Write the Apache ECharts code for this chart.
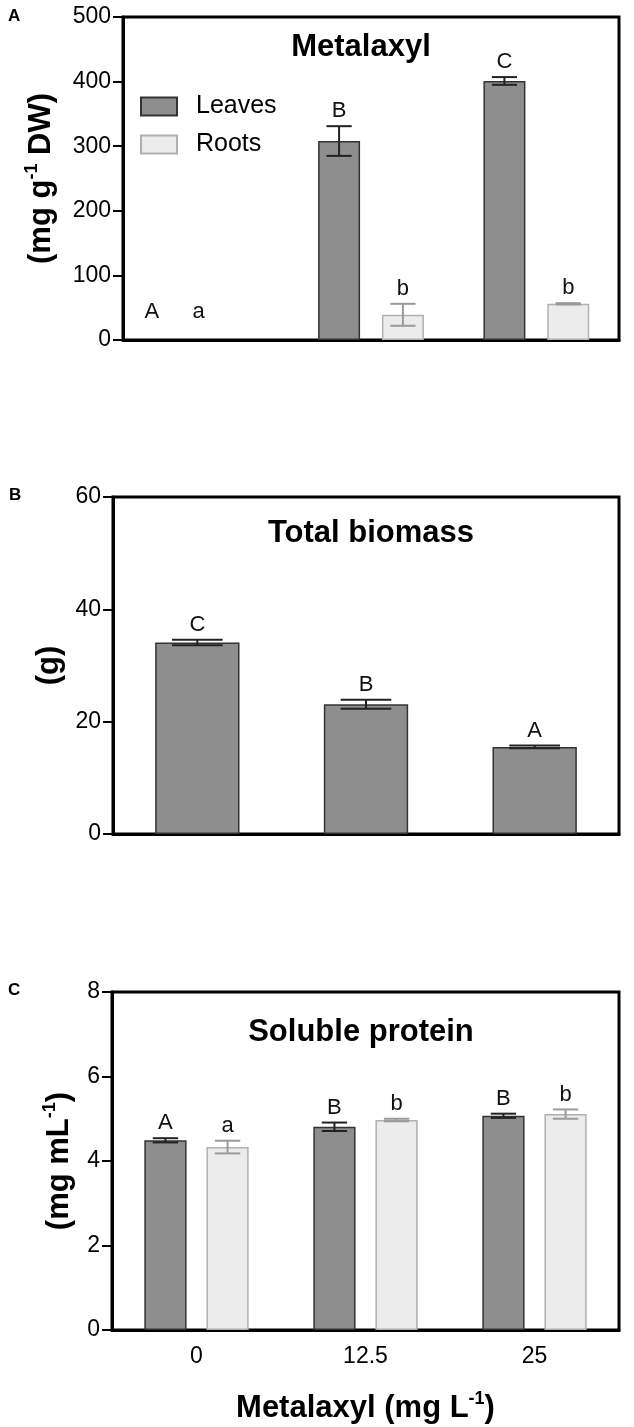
<!DOCTYPE html>
<html>
<head>
<meta charset="utf-8">
<script src="https://cdn.jsdelivr.net/npm/echarts@6/dist/echarts.min.js"></script>
<style>
html,body{margin:0;padding:0;background:#fff;}
#chart{width:634px;height:1427px;}
</style>
</head>
<body>
<div id="chart"></div>
<script>
// ---------- data ----------
const categories = ['0', '12.5', '25'];

// Panel A: Metalaxyl content (mg g-1 DW)
const metalaxylLeaves = [0, 308, 401];
const metalaxylLeavesErr = [0, 23, 6];
const metalaxylLeavesLetters = ['A', 'B', 'C'];
const metalaxylRoots = [0, 39, 56];
const metalaxylRootsErr = [0, 17, 1];
const metalaxylRootsLetters = ['a', 'b', 'b'];

// Panel B: Total biomass (g)
const biomass = [34.1, 23.1, 15.5];
const biomassErr = [0.5, 0.8, 0.25];
const biomassLetters = ['C', 'B', 'A'];

// Panel C: Soluble protein (mg mL-1)
const proteinLeaves = [4.49, 4.81, 5.07];
const proteinLeavesErr = [0.05, 0.10, 0.05];
const proteinLeavesLetters = ['A', 'B', 'B'];
const proteinRoots = [4.33, 4.97, 5.11];
const proteinRootsErr = [0.15, 0.03, 0.11];
const proteinRootsLetters = ['a', 'b', 'b'];

const yTicksA = [0, 500, 100];
const yTicksB = [0, 60, 20];
const yTicksC = [0, 8, 2];

// ---------- styling ----------
const FONT = 'Liberation Sans, Arial, Helvetica, sans-serif';
const LEAF_FILL = '#8e8e8e', LEAF_BORDER = '#333333', LEAF_ERR = '#222222';
const ROOT_FILL = '#ececec', ROOT_BORDER = '#b0b0b0', ROOT_ERR = '#9a9a9a';

const grids = [
  {left: 123, top: 17, width: 496, height: 323},
  {left: 113, top: 497, width: 506, height: 337},
  {left: 112, top: 992, width: 507, height: 338}
];

const richName = {
  b: {fontSize: 31, fontWeight: 'bold', fontFamily: FONT, color: '#000', lineHeight: 36},
  s: {fontSize: 18, fontWeight: 'bold', fontFamily: FONT, color: '#000', lineHeight: 18, verticalAlign: 'top'}
};

function yAxis(gi, ticks, name, gap) {
  return {
    type: 'value', gridIndex: gi, min: ticks[0], max: ticks[1], interval: ticks[2],
    splitLine: {show: false},
    axisLine: {show: true, lineStyle: {color: '#000', width: 3}},
    axisTick: {show: true, length: 10, lineStyle: {color: '#000', width: 2}},
    axisLabel: {color: '#000', fontSize: 23, fontFamily: FONT, margin: 12},
    name: name, nameLocation: 'middle', nameRotate: 90, nameGap: gap,
    nameTextStyle: {rich: richName}
  };
}

function xAxis(gi, showLabels) {
  const ax = {
    type: 'category', gridIndex: gi, data: categories,
    axisLine: {show: true, onZero: false, lineStyle: {color: '#000', width: 3}},
    axisTick: {show: false},
    axisLabel: {show: showLabels, color: '#000', fontSize: 23, fontFamily: FONT, margin: 15}
  };
  if (showLabels) {
    ax.name = '{b|Metalaxyl (mg L}{s|-1}{b|)}';
    ax.nameLocation = 'middle';
    ax.nameGap = 60;
    ax.nameTextStyle = {rich: richName};
  }
  return ax;
}

function barSeries(name, gi, data, fill, border, bw, gap) {
  return {
    type: 'bar', name: name, xAxisIndex: gi, yAxisIndex: gi,
    data: data.map(v => v === 0 ? {value: v, itemStyle: {borderWidth: 0, opacity: 0}} : v),
    barWidth: bw, barGap: gap,
    itemStyle: {color: fill, borderColor: border, borderWidth: 1.5},
    emphasis: {disabled: true}, animation: false, z: 2
  };
}

function errSeries(gi, means, errs, letters, color, bwFrac, gapFrac, n, i, zeroShift) {
  return {
    type: 'custom', xAxisIndex: gi, yAxisIndex: gi, animation: false, z: 5, silent: true,
    data: means.map((m, k) => [k, m, errs[k]]),
    encode: {x: 0, y: 1},
    renderItem: function (params, api) {
      const cat = api.value(0), mean = api.value(1), err = api.value(2);
      const catW = api.size([1, 0])[0];
      const bw = catW * bwFrac;
      const g = bw * gapFrac;
      const offset = -(n * bw + (n - 1) * g) / 2 + i * (bw + g) + bw / 2;
      const base = api.coord([cat, mean]);
      const x = base[0] + offset;
      const yTop = api.coord([cat, mean + err])[1];
      const yBot = api.coord([cat, mean - err])[1];
      const yZero = api.coord([cat, 0])[1];
      const half = bw * 0.3;
      const children = [];
      if (err > 0) {
        const ls = {stroke: color, lineWidth: 2};
        children.push({type: 'line', shape: {x1: x, y1: yTop, x2: x, y2: yBot}, style: ls});
        children.push({type: 'line', shape: {x1: x - half, y1: yTop, x2: x + half, y2: yTop}, style: ls});
        children.push({type: 'line', shape: {x1: x - half, y1: yBot, x2: x + half, y2: yBot}, style: ls});
      }
      let tx = x, ty = yTop - 4;
      if (mean === 0) { tx = x + zeroShift; ty = yZero - 17; }
      children.push({
        type: 'text',
        style: {x: tx, y: ty, text: letters[params.dataIndex], fill: '#111',
                font: '22px ' + FONT, textAlign: 'center', textVerticalAlign: 'bottom'}
      });
      return {type: 'group', children: children};
    }
  };
}

const option = {
  animation: false,
  backgroundColor: '#fff',
  textStyle: {fontFamily: FONT},
  grid: grids.map(g => Object.assign({show: true, borderColor: '#000', borderWidth: 3, backgroundColor: 'transparent'}, g)),
  legend: {
    data: [{name: 'Leaves', icon: 'rect'}, {name: 'Roots', icon: 'rect'}],
    orient: 'vertical', left: 135, top: 89,
    itemWidth: 36, itemHeight: 18, itemGap: 13,
    textStyle: {fontSize: 25, fontFamily: FONT, color: '#000', padding: [0, 0, 0, 14]},
    selectedMode: false
  },
  xAxis: [xAxis(0, false), xAxis(1, false), xAxis(2, true)],
  yAxis: [
    yAxis(0, yTicksA, '{b|(mg g}{s|-1}{b| DW)}', 64),
    yAxis(1, yTicksB, '{b|(g)}', 45),
    yAxis(2, yTicksC, '{b|(mg mL}{s|-1}{b|)}', 35)
  ],
  series: [
    barSeries('Leaves', 0, metalaxylLeaves, LEAF_FILL, LEAF_BORDER, '25.4%', '52%'),
    barSeries('Roots', 0, metalaxylRoots, ROOT_FILL, ROOT_BORDER, '25.4%', '52%'),
    errSeries(0, metalaxylLeaves, metalaxylLeavesErr, metalaxylLeavesLetters, LEAF_ERR, 0.254, 0.52, 2, 0, -22),
    errSeries(0, metalaxylRoots, metalaxylRootsErr, metalaxylRootsLetters, ROOT_ERR, 0.254, 0.52, 2, 1, -39),

    barSeries('Biomass', 1, biomass, LEAF_FILL, LEAF_BORDER, '50%', '0%'),
    errSeries(1, biomass, biomassErr, biomassLetters, LEAF_ERR, 0.5, 0, 1, 0, 0),

    barSeries('Leaves', 2, proteinLeaves, LEAF_FILL, LEAF_BORDER, '25%', '47%'),
    barSeries('Roots', 2, proteinRoots, ROOT_FILL, ROOT_BORDER, '25%', '47%'),
    errSeries(2, proteinLeaves, proteinLeavesErr, proteinLeavesLetters, LEAF_ERR, 0.25, 0.47, 2, 0, 0),
    errSeries(2, proteinRoots, proteinRootsErr, proteinRootsLetters, ROOT_ERR, 0.25, 0.47, 2, 1, 0)
  ],
  graphic: [
    {type: 'text', left: 8, top: 8, style: {text: 'A', font: 'bold 17px ' + FONT, fill: '#000'}},
    {type: 'text', left: 9, top: 487, style: {text: 'B', font: 'bold 17px ' + FONT, fill: '#000'}},
    {type: 'text', left: 8, top: 982, style: {text: 'C', font: 'bold 17px ' + FONT, fill: '#000'}},
    {type: 'text', x: 361, y: 47, style: {text: 'Metalaxyl', font: 'bold 31px ' + FONT, fill: '#000', textAlign: 'center', textVerticalAlign: 'middle'}},
    {type: 'text', x: 371, y: 533, style: {text: 'Total biomass', font: 'bold 31px ' + FONT, fill: '#000', textAlign: 'center', textVerticalAlign: 'middle'}},
    {type: 'text', x: 361, y: 1032, style: {text: 'Soluble protein', font: 'bold 31px ' + FONT, fill: '#000', textAlign: 'center', textVerticalAlign: 'middle'}}
  ]
};

const chart = echarts.init(document.getElementById('chart'), null, {renderer: 'canvas'});
chart.setOption(option);
</script>
</body>
</html>
